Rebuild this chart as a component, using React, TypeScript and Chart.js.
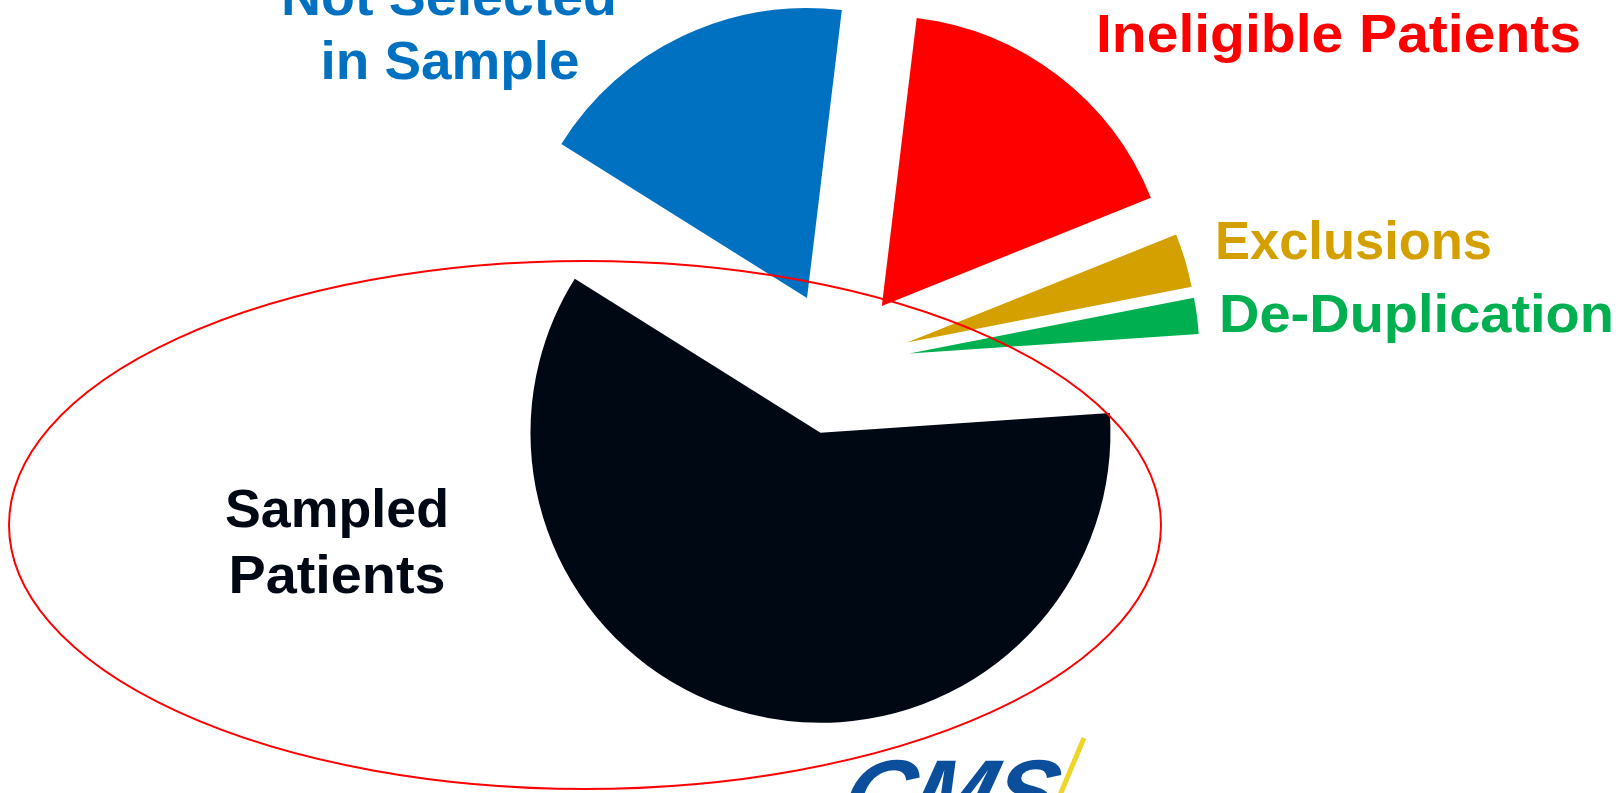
import React, { useEffect, useRef } from "react";
import { Chart, registerables } from "chart.js";

Chart.register(...registerables);

// ---- data ----
const categories = [
  "Sampled Patients",
  "Not Selected in Sample",
  "Ineligible Patients",
  "Exclusions",
  "De-Duplication",
];
const shares = [60, 18, 17, 3, 2];
const sliceColors = ["#000814", "#0070C0", "#FF0000", "#D4A000", "#00B050"];
const labelLines = [
  ["Sampled", "Patients"],
  ["Not Selected", "in Sample"],
  ["Ineligible Patients"],
  ["Exclusions"],
  ["De-Duplication"],
];

// ---- layout / style ----
const W = 1624;
const H = 793;
const EXPLODE = 72;
const RADIUS = 290;
const FONT = "Liberation Sans, Arial, sans-serif";
const FONT_SIZE = 54;
// per category, per line: [x, baseline, targetWidth, align]
const labelPlaces: [number, number, number, CanvasTextAlign][][] = [
  [
    [337, 527, 224, "center"],
    [337, 593, 217, "center"],
  ],
  [
    [449, 15, 336, "center"],
    [450, 79, 259, "center"],
  ],
  [[1096, 52, 485, "left"]],
  [[1215, 259, 277, "left"]],
  [[1219, 332, 395, "left"]],
];

function drawFitted(
  ctx: CanvasRenderingContext2D,
  text: string,
  x: number,
  y: number,
  width: number,
  align: CanvasTextAlign,
  color: string
) {
  ctx.save();
  ctx.font = `bold ${FONT_SIZE}px ${FONT}`;
  ctx.fillStyle = color;
  ctx.textBaseline = "alphabetic";
  ctx.textAlign = "left";
  const m = ctx.measureText(text).width;
  const s = width / m;
  const left = align === "center" ? x - width / 2 : x;
  ctx.translate(left, y);
  ctx.scale(s, 1);
  ctx.fillText(text, 0, 0);
  ctx.restore();
}

const explodePlugin = {
  id: "explodeSlices",
  beforeDatasetsDraw(chart: any) {
    const meta = chart.getDatasetMeta(0);
    const ca = chart.chartArea;
    const cx = (ca.left + ca.right) / 2;
    const cy = (ca.top + ca.bottom) / 2;
    meta.data.forEach((arc: any) => {
      const mid = (arc.startAngle + arc.endAngle) / 2;
      arc.x = cx + Math.cos(mid) * EXPLODE;
      arc.y = cy + Math.sin(mid) * EXPLODE;
    });
  },
};

const decorPlugin = {
  id: "decor",
  afterDatasetsDraw(chart: any) {
    const ctx: CanvasRenderingContext2D = chart.ctx;
    // labels
    labelLines.forEach((lines, i) => {
      lines.forEach((t, j) => {
        const [x, y, w, a] = labelPlaces[i][j];
        drawFitted(ctx, t, x, y, w, a, sliceColors[i]);
      });
    });
    // red ellipse
    ctx.save();
    ctx.beginPath();
    ctx.ellipse(585, 525, 576, 264, 0, 0, Math.PI * 2);
    ctx.strokeStyle = "#FF0000";
    ctx.lineWidth = 2;
    ctx.stroke();
    ctx.restore();
    // CMS logo (partial)
    ctx.save();
    ctx.font = `italic bold 92px ${FONT}`;
    ctx.fillStyle = "#0B4F9C";
    ctx.textBaseline = "alphabetic";
    const m = ctx.measureText("CMS").width;
    ctx.translate(838, 824);
    ctx.transform(1, 0, -0.25, 1, 0, 0);
    ctx.scale(212 / m, 1);
    ctx.fillText("CMS", 0, 0);
    ctx.restore();
    ctx.save();
    ctx.beginPath();
    ctx.moveTo(1084, 738);
    ctx.lineTo(1060, 795);
    ctx.strokeStyle = "#EDD52A";
    ctx.lineWidth = 5;
    ctx.stroke();
    ctx.restore();
  },
};

export default function App() {
  const ref = useRef<HTMLCanvasElement | null>(null);
  useEffect(() => {
    if (!ref.current) return;
    const chart = new Chart(ref.current, {
      type: "pie",
      data: {
        labels: categories,
        datasets: [
          {
            data: shares,
            backgroundColor: sliceColors,
            borderWidth: 0,
            radius: RADIUS,
          } as any,
        ],
      },
      options: {
        animation: false,
        responsive: false,
        devicePixelRatio: 1,
        rotation: 86.1,
        layout: { padding: { left: 52, right: 0, top: 0, bottom: 67 } },
        plugins: {
          legend: { display: false },
          tooltip: { enabled: false },
        },
      } as any,
      plugins: [explodePlugin, decorPlugin],
    });
    return () => chart.destroy();
  }, []);
  return (
    <div
      style={{
        position: "fixed",
        left: 0,
        top: 0,
        width: W,
        height: H,
        background: "#FFFFFF",
      }}
    >
      <canvas ref={ref} width={W} height={H} style={{ width: W, height: H, display: "block" }} />
    </div>
  );
}
